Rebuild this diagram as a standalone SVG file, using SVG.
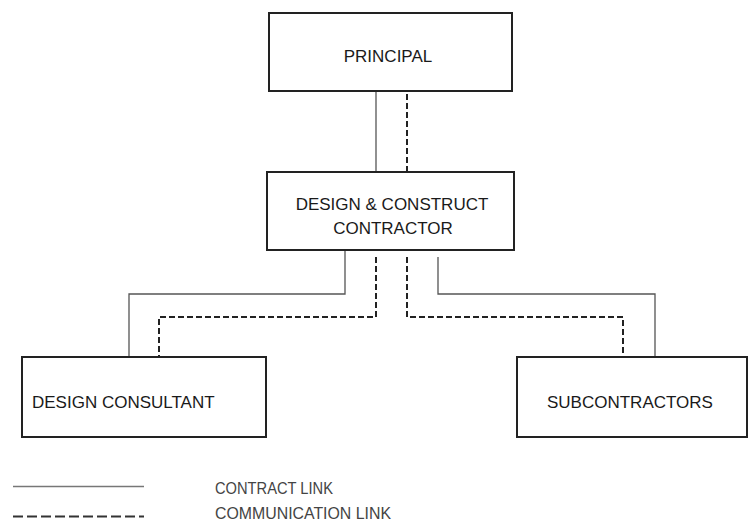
<svg xmlns="http://www.w3.org/2000/svg" width="748" height="525" viewBox="0 0 748 525">
<style>
.box{fill:#fff;stroke:#222;stroke-width:2}
.lbl{font-family:"Liberation Sans",Arial,sans-serif;font-size:17px;fill:#1a1a1a}
.leg{font-family:"Liberation Sans",Arial,sans-serif;font-size:17px;fill:#444}
.solid{fill:none;stroke:#555;stroke-width:1.3}
.dash{fill:none;stroke:#222;stroke-width:2;stroke-dasharray:6 3}
</style>
<rect width="748" height="525" fill="#fff"/>
<g id="connectors">
<line class="solid" x1="376" y1="91" x2="376" y2="172"/>
<line class="dash" x1="407" y1="94" x2="407" y2="172"/>
<polyline class="solid" points="345,250 345,294 129,294 129,357"/>
<polyline class="dash" points="376,257 376,317 159,317 159,357"/>
<polyline class="dash" points="407,257 407,317 623,317 623,357"/>
<polyline class="solid" points="438,257 438,294 655,294 655,357"/>
</g>
<g id="principal">
<rect class="box" x="269" y="13" width="243" height="78"/>
<text class="lbl" x="388" y="62" text-anchor="middle">PRINCIPAL</text>
</g>
<g id="contractor">
<rect class="box" x="267" y="172" width="247" height="78"/>
<text class="lbl" x="392" y="210" text-anchor="middle">DESIGN &amp; CONSTRUCT</text>
<text class="lbl" x="393" y="233.5" text-anchor="middle">CONTRACTOR</text>
</g>
<g id="consultant">
<rect class="box" x="22" y="357" width="244" height="80"/>
<text class="lbl" x="32" y="408">DESIGN CONSULTANT</text>
</g>
<g id="subcontractors">
<rect class="box" x="517" y="357" width="230" height="80"/>
<text class="lbl" x="547" y="408">SUBCONTRACTORS</text>
</g>
<g id="legend">
<line x1="13" y1="486.5" x2="144" y2="486.5" stroke="#777" stroke-width="1.6"/>
<line x1="13" y1="516.5" x2="144" y2="516.5" stroke="#333" stroke-width="2.2" stroke-dasharray="10 4"/>
<text class="leg" x="215" y="494" textLength="118" lengthAdjust="spacingAndGlyphs">CONTRACT LINK</text>
<text class="leg" x="215" y="519" textLength="176" lengthAdjust="spacingAndGlyphs">COMMUNICATION LINK</text>
</g>
</svg>
